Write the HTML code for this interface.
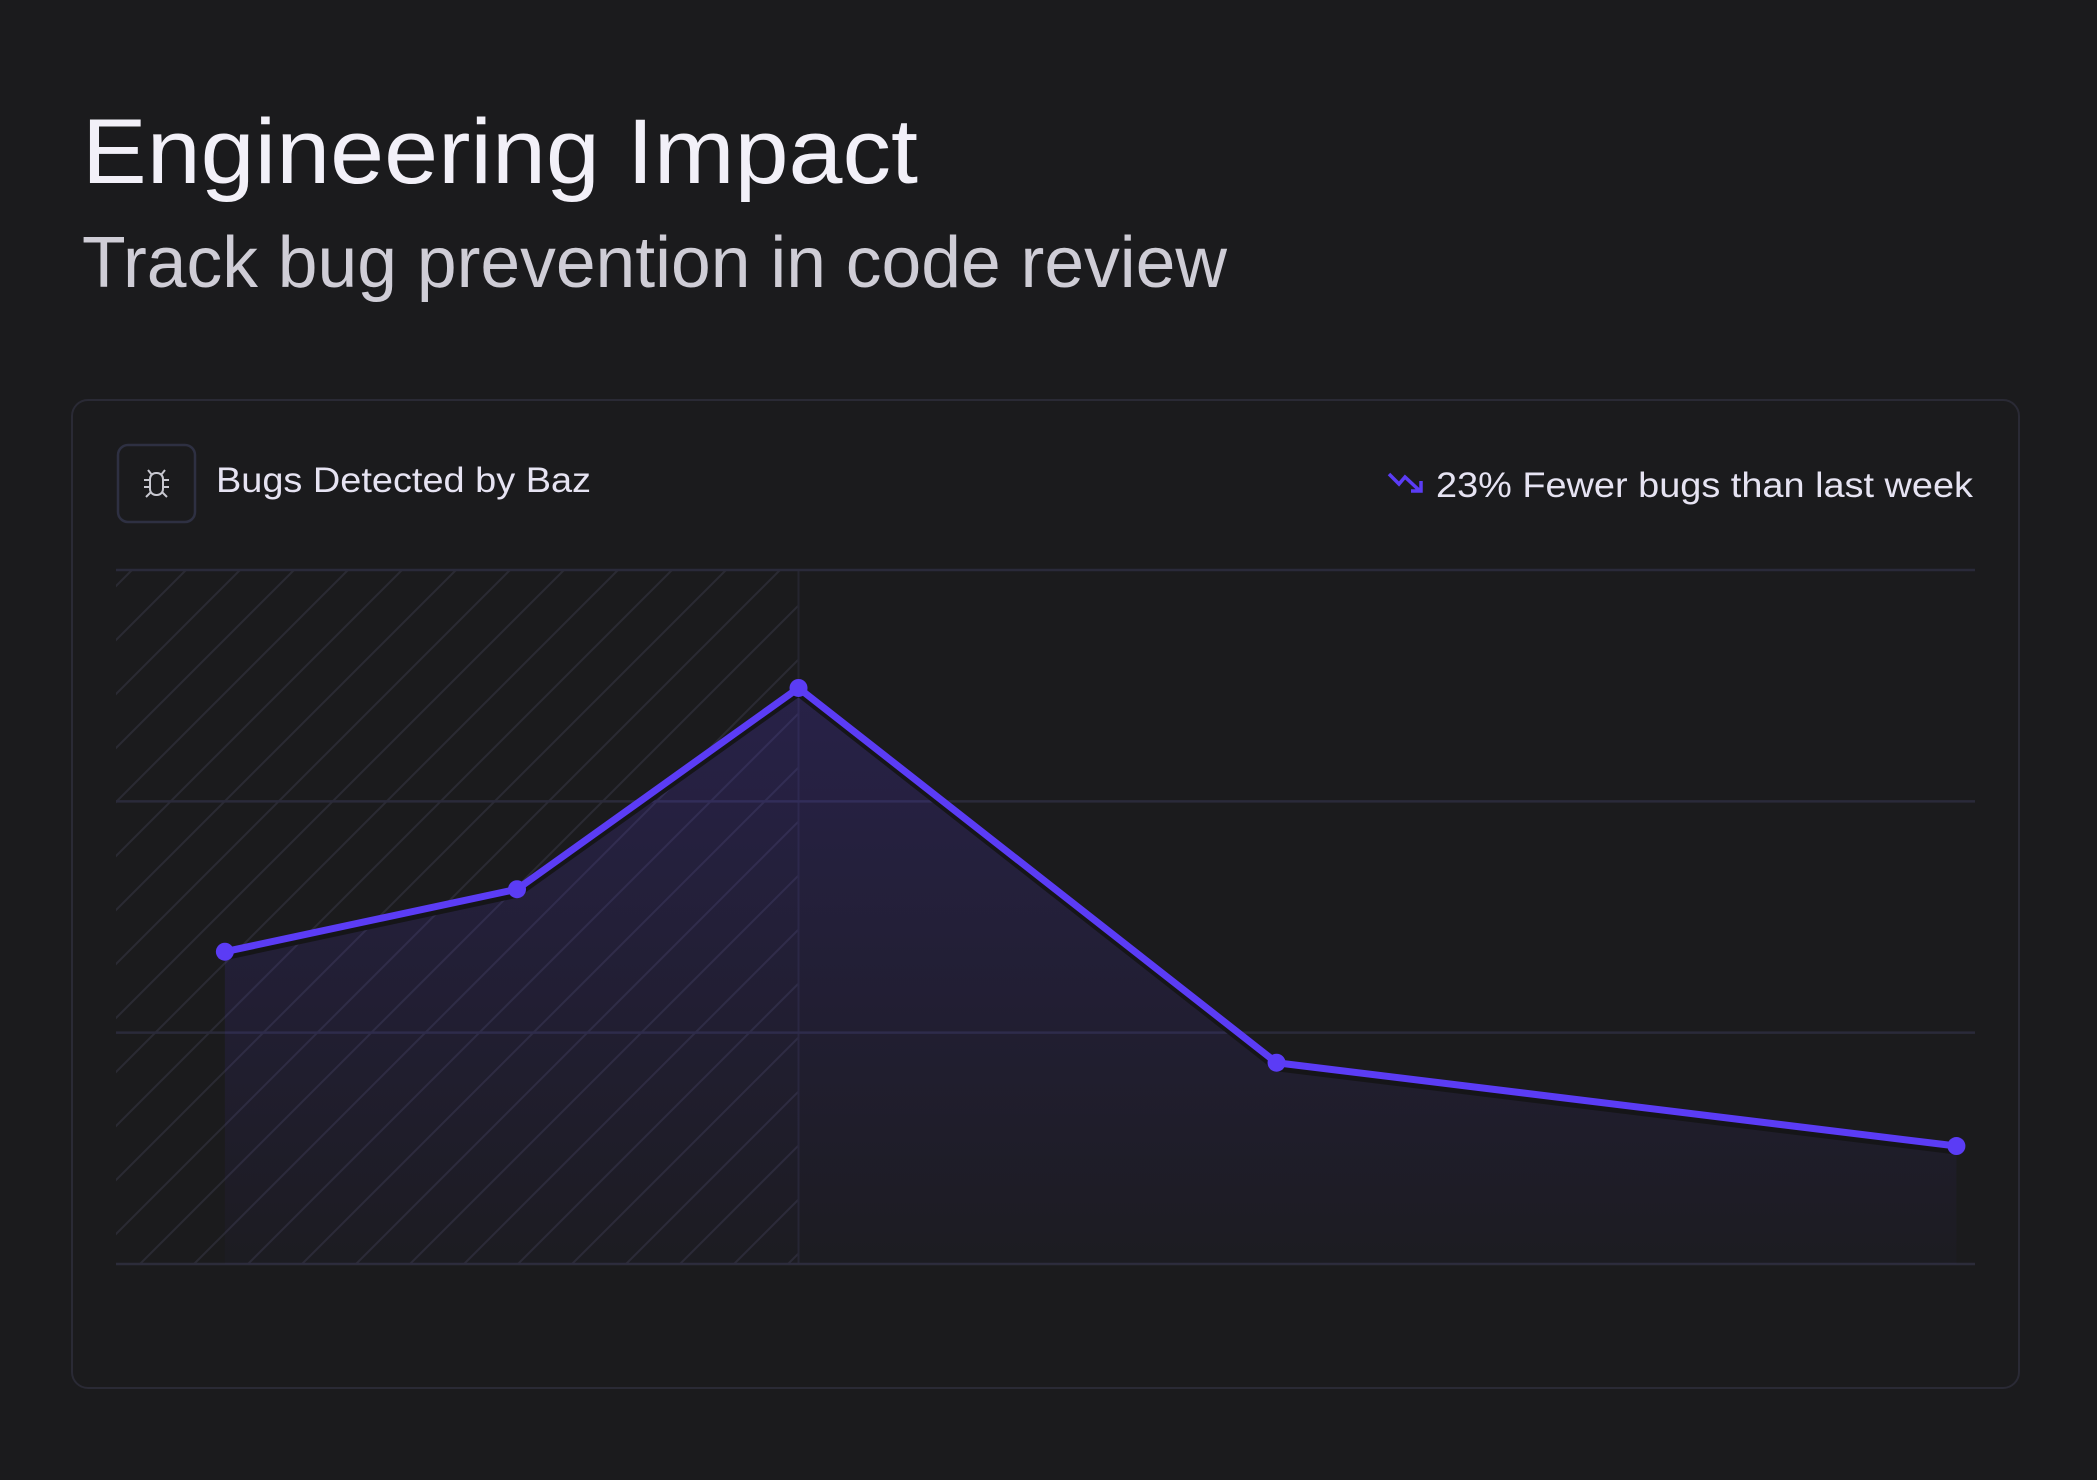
<!DOCTYPE html>
<html><head><meta charset="utf-8"><style>
html,body{margin:0;padding:0;background:#1b1b1d;}
svg{display:block;font-family:"Liberation Sans",sans-serif;}
</style></head><body>
<svg id="chart" width="2097" height="1480" viewBox="0 0 2097 1480" xmlns="http://www.w3.org/2000/svg">
<defs>
<pattern id="hatch" width="54" height="54" patternUnits="userSpaceOnUse">
<path d="M-5 59 L59 -5 M-5 5 L5 -5 M49 59 L59 49" stroke="#2a2a33" stroke-width="2"/>
</pattern>
<linearGradient id="areaGrad" x1="0" y1="0" x2="0" y2="1">
<stop offset="0" stop-color="#5b3cf5" stop-opacity="0.2"/>
<stop offset="1" stop-color="#5b3cf5" stop-opacity="0.02"/>
</linearGradient>
</defs>
<rect width="2097" height="1480" fill="#1b1b1d"/>
<text x="82" y="183" font-size="92" fill="#f2f0f8" textLength="836" lengthAdjust="spacingAndGlyphs">Engineering Impact</text>
<text x="82" y="287" font-size="72" fill="#cfcdd6" textLength="1145" lengthAdjust="spacingAndGlyphs">Track bug prevention in code review</text>
<rect x="72" y="400" width="1947" height="988" rx="16" fill="#1b1b1d" stroke="#2a2a35" stroke-width="2"/>
<g>
<rect x="118" y="445" width="77" height="77" rx="10" fill="none" stroke="#2e3042" stroke-width="2.5"/>
<g stroke="#c8c8d0" stroke-width="2" fill="none">
<rect x="150" y="473" width="13" height="22" rx="6"/>
<path d="M150 480 h-6 M163 480 h6 M150 487 h-6 M163 487 h6 M151 492 l-5 5 M162 492 l5 5 M152 475 l-4 -5 M161 475 l4 -5"/>
</g>
</g>
<text x="216" y="492" font-size="35" fill="#e6e3f2" textLength="375" lengthAdjust="spacingAndGlyphs">Bugs Detected by Baz</text>
<g stroke="#5b3cf5" stroke-width="3.5" fill="none">
<path d="M1389 474 L1399 484 L1405 477 L1420 491 M1411 491 H1421 V481"/>
</g>
<text x="1436" y="497" font-size="35" fill="#e6e3f2" textLength="537" lengthAdjust="spacingAndGlyphs">23% Fewer bugs than last week</text>
<g id="plot"></g>
</svg>
<script>
const dayPositions = [0.41, 1.51, 2.57, 4.37, 6.93];
const bugCounts = [13.5, 16.2, 24.9, 8.7, 5.1];
const yTicks = [0, 10, 20, 30];
const highlightEnd = 2.57;

const X0 = 116, X1 = 1975, Y0 = 1264, Y1 = 570;
const xScale = d => X0 + d / 7 * (X1 - X0);
const yScale = v => Y0 - v / 30 * (Y0 - Y1);
const NS = "http://www.w3.org/2000/svg";
const plot = document.getElementById('plot');
function mk(tag, attrs, parent) {
  const e = document.createElementNS(NS, tag);
  for (const k in attrs) e.setAttribute(k, attrs[k]);
  (parent || plot).appendChild(e);
  return e;
}
const hx = xScale(highlightEnd);
const hatch = mk('rect', {x: X0, y: Y1, width: hx - X0, height: Y0 - Y1, fill: 'url(#hatch)'});


const vline = mk('line', {x1: hx, x2: hx, y1: Y1, y2: Y0, stroke: '#25252f', 'stroke-width': 2});


yTicks.forEach(t => {
  const g = mk('line', {x1: X0, x2: X1, y1: yScale(t), y2: yScale(t), stroke: t === 0 ? '#2c2c3a' : '#2a2a3a', 'stroke-width': 2.5});
  
  
});
const pts = dayPositions.map((d, i) => [xScale(d), yScale(bugCounts[i])]);
let area = 'M' + pts[0][0] + ' ' + Y0 + pts.map(p => ' L' + p[0] + ' ' + p[1]).join('') + ' L' + pts[pts.length - 1][0] + ' ' + Y0 + ' Z';
const a = mk('path', {d: area, fill: 'url(#areaGrad)'});


const shadow = mk('polyline', {points: pts.map(p => p[0] + ',' + (p[1] + 5)).join(' '), fill: 'none', stroke: '#151518', 'stroke-width': 7, 'stroke-linejoin': 'round'});


const line = mk('polyline', {points: pts.map(p => p.join(',')).join(' '), fill: 'none', stroke: '#5b3cf5', 'stroke-width': 7, 'stroke-linejoin': 'round'});


pts.forEach((p, i) => {
  const c = mk('circle', {cx: p[0], cy: p[1], r: 9, fill: '#5b3cf5'});
  
  
});
</script>
</body></html>
